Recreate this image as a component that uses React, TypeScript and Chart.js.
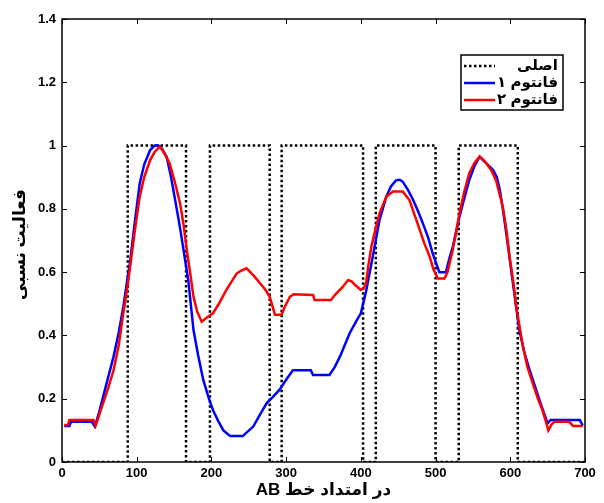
import React, { useEffect, useRef } from "react";
import { Chart, registerables } from "chart.js";

Chart.register(...registerables);

// ---- data ----
const xTitle = "در امتداد خط AB";
const yTitle = "فعالیت نسبی";
const seriesNames = ["اصلی", "فانتوم ۱", "فانتوم ۲"];

const originalX = [0, 88, 88, 166, 166, 198, 198, 278, 278, 294, 294, 403, 403, 420, 420, 500, 500, 531, 531, 610, 610, 700];
const originalY = [0, 0, 1, 1, 0, 0, 1, 1, 0, 0, 1, 1, 0, 0, 1, 1, 0, 0, 1, 1, 0, 0];

const blueX = [3, 10, 12, 40, 44, 50, 55, 62, 69, 76, 82, 87, 91, 97, 104, 110, 118, 124, 129, 134, 140, 146, 153, 158, 162, 169, 176, 182, 189, 196, 202, 209, 216, 225, 242, 248, 256, 265, 274, 282, 291, 300, 309, 333, 336, 358, 365, 372, 385, 395, 400, 404, 407, 416, 425, 434, 440, 447, 452, 456, 463, 470, 477, 483, 490, 496, 505, 514, 518, 523, 532, 538, 545, 552, 559, 563, 568, 577, 582, 586, 590, 594, 603, 612, 619, 626, 633, 639, 645, 650, 654, 693, 697];
const blueY = [0.114, 0.114, 0.127, 0.127, 0.112, 0.16, 0.206, 0.27, 0.333, 0.41, 0.49, 0.57, 0.63, 0.75, 0.88, 0.94, 0.986, 1.0, 1.0, 0.99, 0.965, 0.9, 0.807, 0.74, 0.68, 0.575, 0.417, 0.34, 0.26, 0.205, 0.164, 0.13, 0.1, 0.082, 0.082, 0.095, 0.112, 0.15, 0.186, 0.205, 0.228, 0.26, 0.29, 0.29, 0.275, 0.275, 0.3, 0.333, 0.407, 0.45, 0.47, 0.51, 0.54, 0.65, 0.765, 0.838, 0.87, 0.89, 0.892, 0.886, 0.86, 0.828, 0.79, 0.754, 0.71, 0.66, 0.6, 0.6, 0.64, 0.68, 0.775, 0.83, 0.89, 0.935, 0.965, 0.955, 0.944, 0.923, 0.9, 0.86, 0.8, 0.733, 0.575, 0.417, 0.345, 0.29, 0.24, 0.196, 0.155, 0.122, 0.133, 0.133, 0.115];

const redX = [3, 8, 10, 42, 45, 50, 55, 62, 69, 76, 82, 88, 93, 98, 104, 110, 118, 124, 131, 137, 144, 151, 158, 163, 167, 172, 176, 181, 187, 193, 202, 210, 220, 227, 234, 240, 247, 252, 258, 265, 272, 278, 282, 285, 294, 298, 305, 310, 336, 338, 360, 366, 376, 383, 388, 392, 400, 404, 407, 410, 414, 420, 425, 434, 443, 456, 465, 472, 479, 485, 492, 497, 503, 512, 516, 523, 532, 538, 545, 552, 559, 564, 568, 575, 581, 590, 595, 599, 604, 608, 613, 617, 623, 630, 637, 643, 648, 651, 655, 659, 679, 684, 697];
const redY = [0.117, 0.117, 0.133, 0.133, 0.115, 0.15, 0.186, 0.235, 0.29, 0.37, 0.47, 0.56, 0.65, 0.74, 0.838, 0.9, 0.954, 0.98, 0.997, 0.975, 0.944, 0.885, 0.818, 0.745, 0.67, 0.59, 0.522, 0.475, 0.443, 0.455, 0.47, 0.5, 0.544, 0.57, 0.596, 0.605, 0.612, 0.6, 0.585, 0.565, 0.545, 0.522, 0.49, 0.465, 0.465, 0.49, 0.522, 0.53, 0.528, 0.512, 0.512, 0.53, 0.554, 0.575, 0.57, 0.56, 0.544, 0.55, 0.565, 0.62, 0.68, 0.74, 0.786, 0.838, 0.855, 0.855, 0.828, 0.78, 0.733, 0.69, 0.65, 0.61, 0.58, 0.58, 0.6, 0.67, 0.786, 0.85, 0.912, 0.945, 0.965, 0.955, 0.944, 0.92, 0.89, 0.807, 0.73, 0.65, 0.57, 0.49, 0.42, 0.364, 0.3, 0.249, 0.2, 0.164, 0.125, 0.1, 0.118, 0.127, 0.127, 0.114, 0.114];

const toPts = (xs: number[], ys: number[]) => xs.map((x, i) => ({ x, y: ys[i] }));

const FONT = "'Liberation Sans', 'DejaVu Sans', Arial, sans-serif";

const decorPlugin = {
  id: "decor",
  beforeDatasetsDraw(chart: any) {
    const { ctx, chartArea: a, scales } = chart;
    ctx.save();
    ctx.strokeStyle = "#000";
    ctx.lineWidth = 1.5;
    ctx.strokeRect(a.left, a.top, a.right - a.left, a.bottom - a.top);
    ctx.lineWidth = 1;
    const tl = 5;
    ctx.beginPath();
    scales.x.ticks.forEach((t: any) => {
      const px = Math.round(scales.x.getPixelForValue(t.value)) + 0.5;
      ctx.moveTo(px, a.bottom); ctx.lineTo(px, a.bottom - tl);
      ctx.moveTo(px, a.top); ctx.lineTo(px, a.top + tl);
    });
    scales.y.ticks.forEach((t: any) => {
      const py = Math.round(scales.y.getPixelForValue(t.value)) + 0.5;
      ctx.moveTo(a.left, py); ctx.lineTo(a.left + tl, py);
      ctx.moveTo(a.right, py); ctx.lineTo(a.right - tl, py);
    });
    ctx.stroke();
    ctx.restore();
  },
  afterDraw(chart: any) {
    const { ctx, chartArea: a } = chart;
    ctx.save();
    // axis titles
    ctx.fillStyle = "#000";
    ctx.font = `bold 17px ${FONT}`;
    ctx.direction = "rtl";
    ctx.textAlign = "center";
    ctx.textBaseline = "middle";
    ctx.fillText(xTitle, (a.left + a.right) / 2, 490);
    ctx.save();
    ctx.translate(20, (a.top + a.bottom) / 2 + 4);
    ctx.rotate(-Math.PI / 2);
    ctx.fillText(yTitle, 0, 0);
    ctx.restore();

    // legend box
    const bw = 102, bh = 55;
    const bx = a.right - 22 - bw;
    const by = a.top + 36;
    ctx.fillStyle = "#fff";
    ctx.fillRect(bx, by, bw, bh);
    ctx.strokeStyle = "#000";
    ctx.lineWidth = 1.5;
    ctx.strokeRect(bx, by, bw, bh);
    const ds = chart.data.datasets;
    ds.forEach((d: any, i: number) => {
      const y = by + 11 + i * 17;
      ctx.save();
      ctx.strokeStyle = d.borderColor;
      ctx.lineWidth = d.borderWidth;
      ctx.setLineDash(d.borderDash || []);
      ctx.beginPath();
      ctx.moveTo(bx + 3, y);
      ctx.lineTo(bx + 34, y);
      ctx.stroke();
      ctx.restore();
      ctx.fillStyle = "#000";
      ctx.font = `bold 15px ${FONT}`;
      ctx.direction = "rtl";
      ctx.textAlign = "right";
      ctx.textBaseline = "middle";
      ctx.fillText(d.label, bx + bw - 5, y);
    });
    ctx.restore();
  },
};

export default function App() {
  const ref = useRef<HTMLCanvasElement | null>(null);
  useEffect(() => {
    if (!ref.current) return;
    const chart = new Chart(ref.current, {
      type: "line",
      data: {
        datasets: [
          {
            label: seriesNames[0],
            data: toPts(originalX, originalY),
            borderColor: "#000",
            borderWidth: 2.5,
            borderDash: [2.5, 2.5],
            pointRadius: 0,
            tension: 0,
            order: 2,
          },
          {
            label: seriesNames[1],
            data: toPts(blueX, blueY),
            borderColor: "#0000ff",
            borderWidth: 2.5,
            pointRadius: 0,
            tension: 0,
            order: 1,
          },
          {
            label: seriesNames[2],
            data: toPts(redX, redY),
            borderColor: "#ff0000",
            borderWidth: 2.5,
            pointRadius: 0,
            tension: 0,
            order: 0,
          },
        ],
      },
      options: {
        responsive: false,
        animation: false,
        layout: { padding: { left: 0, top: 19, right: 19, bottom: 0 } },
        plugins: { legend: { display: false }, tooltip: { enabled: false } },
        scales: {
          x: {
            type: "linear",
            min: 0,
            max: 700,
            grid: { display: false, drawTicks: false },
            border: { display: false },
            ticks: {
              stepSize: 100,
              padding: 4,
              color: "#000",
              font: { family: FONT, size: 13, weight: "bold" },
              maxRotation: 0,
            },
            afterFit: (s: any) => { s.height = 41; },
          },
          y: {
            type: "linear",
            min: 0,
            max: 1.4,
            grid: { display: false, drawTicks: false },
            border: { display: false },
            ticks: {
              stepSize: 0.2,
              padding: 6,
              color: "#000",
              font: { family: FONT, size: 13, weight: "bold" },
              callback: (v: any) => String(Number(Number(v).toFixed(1))),
            },
            afterFit: (s: any) => { s.width = 62; },
          },
        },
      },
      plugins: [decorPlugin],
    } as any);
    return () => chart.destroy();
  }, []);
  return (
    <div style={{ position: "absolute", left: 0, top: 0, width: 604, height: 503, background: "#fff" }}>
      <canvas ref={ref} width={604} height={503} />
    </div>
  );
}
